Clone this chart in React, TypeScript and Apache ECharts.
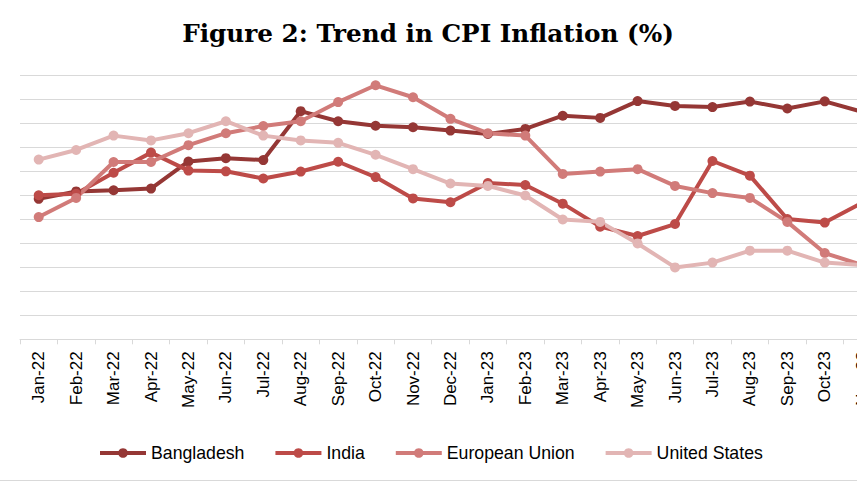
import React, { useEffect, useRef } from "react";
import * as echarts from "echarts";

const categories = [
  "Jan-22", "Feb-22", "Mar-22", "Apr-22", "May-22", "Jun-22", "Jul-22", "Aug-22",
  "Sep-22", "Oct-22", "Nov-22", "Dec-22", "Jan-23", "Feb-23", "Mar-23", "Apr-23",
  "May-23", "Jun-23", "Jul-23", "Aug-23", "Sep-23", "Oct-23", "Nov-23",
];

const bangladesh = [5.86, 6.17, 6.22, 6.29, 7.42, 7.56, 7.48, 9.52, 9.1, 8.91, 8.85, 8.71, 8.57, 8.78, 9.33, 9.24, 9.94, 9.74, 9.69, 9.92, 9.63, 9.93, 9.49];
const india = [6.01, 6.07, 6.95, 7.79, 7.04, 7.01, 6.71, 7.0, 7.41, 6.77, 5.88, 5.72, 6.52, 6.44, 5.66, 4.7, 4.31, 4.81, 7.44, 6.83, 5.02, 4.87, 5.7];
const europeanUnion = [5.1, 5.9, 7.4, 7.4, 8.1, 8.6, 8.9, 9.1, 9.9, 10.6, 10.1, 9.2, 8.6, 8.5, 6.9, 7.0, 7.1, 6.4, 6.1, 5.9, 4.9, 3.6, 3.1];
const unitedStates = [7.5, 7.9, 8.5, 8.3, 8.6, 9.1, 8.5, 8.3, 8.2, 7.7, 7.1, 6.5, 6.4, 6.0, 5.0, 4.9, 4.0, 3.0, 3.2, 3.7, 3.7, 3.2, 3.1];

const seriesNames = ["Bangladesh", "India", "European Union", "United States"];
const seriesColors = ["#953735", "#bd4b48", "#d17b79", "#e2b5b4"];
const seriesData = [bangladesh, india, europeanUnion, unitedStates];

export default function App() {
  const ref = useRef<HTMLDivElement>(null);

  useEffect(() => {
    if (!ref.current) return;
    const chart = echarts.init(ref.current, undefined, { renderer: "svg" });
    const font = "'Liberation Sans', Arial, sans-serif";
    chart.setOption({
      animation: false,
      backgroundColor: "#ffffff",
      graphic: [
        {
          type: "text",
          x: 428,
          y: 33,
          style: {
            text: "Figure 2: Trend in CPI Inflation (%)",
            fontFamily: "'DejaVu Serif', serif",
            fontWeight: "bold",
            fontSize: 24.7,
            fill: "#000000",
            textAlign: "center",
            textVerticalAlign: "middle",
          },
        },
        {
          type: "line",
          shape: { x1: 0, y1: 480.5, x2: 900, y2: 480.5 },
          style: { stroke: "#d9d9d9", lineWidth: 1 },
        },
      ],
      legend: {
        left: 93,
        top: 439,
        itemWidth: 46,
        itemHeight: 12,
        itemGap: 29,
        lineStyle: { width: 4 },
        textStyle: { fontFamily: font, fontSize: 17.7, color: "#000000" },
        data: seriesNames,
      },
      grid: {
        left: 20,
        top: 75.7,
        width: 860.9,
        height: 263.6,
        outerBoundsMode: "none",
      },
      xAxis: {
        type: "category",
        data: categories,
        boundaryGap: true,
        axisLine: { lineStyle: { color: "#d9d9d9", width: 1 } },
        axisTick: { show: true, length: 5, lineStyle: { color: "#d9d9d9" } },
        axisLabel: {
          rotate: 90,
          interval: 0,
          margin: 12,
          fontFamily: font,
          fontSize: 17,
          color: "#000000",
        },
      },
      yAxis: {
        type: "value",
        min: 0,
        max: 11,
        interval: 1,
        axisLabel: { show: false },
        axisLine: { show: false },
        axisTick: { show: false },
        splitLine: { lineStyle: { color: "#d9d9d9", width: 1 } },
      },
      series: seriesNames.map((name, i) => ({
        name,
        type: "line",
        data: seriesData[i],
        symbol: "circle",
        symbolSize: 10,
        showSymbol: true,
        lineStyle: { width: 4, color: seriesColors[i] },
        itemStyle: { color: seriesColors[i] },
      })),
    });
    return () => chart.dispose();
  }, []);

  return (
    <div
      style={{
        position: "fixed",
        left: 0,
        top: 0,
        width: 857,
        height: 482,
        overflow: "hidden",
        background: "#ffffff",
      }}
    >
      <div ref={ref} style={{ width: 900, height: 482 }} />
    </div>
  );
}
